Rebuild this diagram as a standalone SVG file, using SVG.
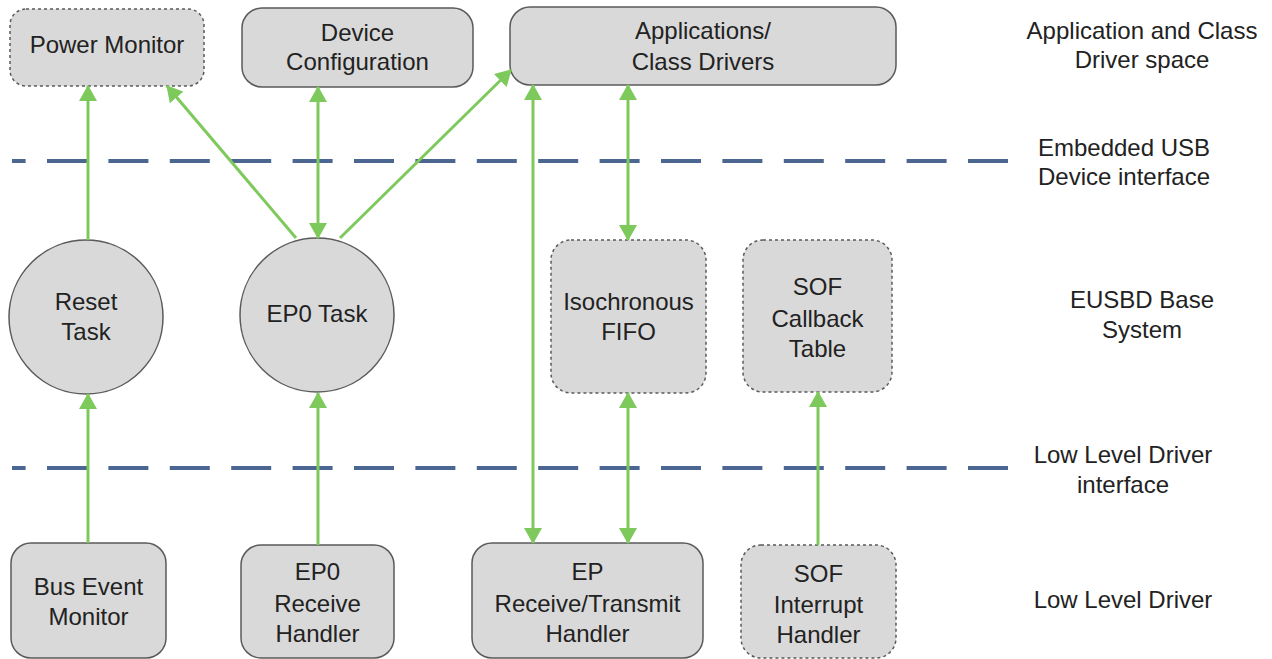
<svg xmlns="http://www.w3.org/2000/svg" width="1272" height="659" viewBox="0 0 1272 659">
<style>
.box{fill:#d9d9d9;stroke:#5a5a5a;stroke-width:1.5}
.dot{fill:#d9d9d9;stroke:#5a5a5a;stroke-width:1.5;stroke-dasharray:3 3}
.t{font-family:"Liberation Sans",Arial,sans-serif;font-size:24px;fill:#222;text-anchor:middle}
.sep{stroke:#4b6690;stroke-width:4;stroke-dasharray:40 21.4;stroke-dashoffset:26.4}
.c{stroke:#7ec95c;stroke-width:3;fill:none}
</style>
<defs>
<marker id="ah" viewBox="0 0 16 18" refX="15" refY="9" markerWidth="16" markerHeight="18" markerUnits="userSpaceOnUse" orient="auto-start-reverse">
<path d="M0,0 L16,9 L0,18 z" fill="#7ec95c"/>
</marker>
</defs>
<rect width="1272" height="659" fill="#ffffff"/>
<g id="separators">
<line class="sep" x1="12" y1="161" x2="1010" y2="161"/>
<line class="sep" x1="12" y1="468" x2="1010" y2="468"/>
</g>
<g id="labels">
<text class="t" x="1142" y="39">Application and Class</text>
<text class="t" x="1142" y="68">Driver space</text>
<text class="t" x="1124" y="156">Embedded USB</text>
<text class="t" x="1124" y="185">Device interface</text>
<text class="t" x="1142" y="308">EUSBD Base</text>
<text class="t" x="1142" y="338">System</text>
<text class="t" x="1123" y="463">Low Level Driver</text>
<text class="t" x="1123" y="493">interface</text>
<text class="t" x="1123" y="608">Low Level Driver</text>
</g>
<g id="power-monitor">
<rect class="dot" x="10" y="9" width="194" height="77" rx="16"/>
<text class="t" x="107" y="53">Power Monitor</text>
</g>
<g id="device-configuration">
<rect class="box" x="242" y="8" width="231" height="79" rx="20"/>
<text class="t" x="357.5" y="41">Device</text>
<text class="t" x="357.5" y="70">Configuration</text>
</g>
<g id="applications">
<rect class="box" x="510" y="7" width="386" height="78" rx="20"/>
<text class="t" x="703" y="39">Applications/</text>
<text class="t" x="703" y="70">Class Drivers</text>
</g>
<g id="reset-task">
<circle class="box" cx="86" cy="317" r="77"/>
<text class="t" x="86" y="310">Reset</text>
<text class="t" x="86" y="340">Task</text>
</g>
<g id="ep0-task">
<circle class="box" cx="317" cy="315" r="77"/>
<text class="t" x="317" y="322">EP0 Task</text>
</g>
<g id="isochronous-fifo">
<rect class="dot" x="551" y="240" width="155" height="153" rx="20"/>
<text class="t" x="628.5" y="310">Isochronous</text>
<text class="t" x="628.5" y="340">FIFO</text>
</g>
<g id="sof-callback-table">
<rect class="dot" x="743" y="240" width="149" height="152" rx="20"/>
<text class="t" x="817.5" y="295">SOF</text>
<text class="t" x="817.5" y="327">Callback</text>
<text class="t" x="817.5" y="357">Table</text>
</g>
<g id="bus-event-monitor">
<rect class="box" x="11" y="543" width="155" height="115" rx="20"/>
<text class="t" x="88.5" y="595">Bus Event</text>
<text class="t" x="88.5" y="625">Monitor</text>
</g>
<g id="ep0-receive-handler">
<rect class="box" x="241" y="545" width="153" height="113" rx="20"/>
<text class="t" x="317.5" y="580">EP0</text>
<text class="t" x="317.5" y="612">Receive</text>
<text class="t" x="317.5" y="642">Handler</text>
</g>
<g id="ep-receive-transmit-handler">
<rect class="box" x="472" y="543" width="231" height="115" rx="20"/>
<text class="t" x="587.5" y="580">EP</text>
<text class="t" x="587.5" y="612">Receive/Transmit</text>
<text class="t" x="587.5" y="642">Handler</text>
</g>
<g id="sof-interrupt-handler">
<rect class="dot" x="741" y="545" width="155" height="113" rx="20"/>
<text class="t" x="818.5" y="582">SOF</text>
<text class="t" x="818.5" y="613">Interrupt</text>
<text class="t" x="818.5" y="643">Handler</text>
</g>
<g id="connectors">
<line class="c" x1="88" y1="240" x2="88" y2="86" marker-end="url(#ah)"/>
<line class="c" x1="296" y1="238" x2="167" y2="86" marker-end="url(#ah)"/>
<line class="c" x1="318" y1="238" x2="318" y2="87" marker-start="url(#ah)" marker-end="url(#ah)"/>
<line class="c" x1="340" y1="238" x2="511" y2="70" marker-end="url(#ah)"/>
<line class="c" x1="533" y1="543" x2="533" y2="85" marker-start="url(#ah)" marker-end="url(#ah)"/>
<line class="c" x1="628" y1="240" x2="628" y2="85" marker-start="url(#ah)" marker-end="url(#ah)"/>
<line class="c" x1="628" y1="543" x2="628" y2="393" marker-start="url(#ah)" marker-end="url(#ah)"/>
<line class="c" x1="88" y1="543" x2="88" y2="394" marker-end="url(#ah)"/>
<line class="c" x1="318" y1="545" x2="318" y2="393" marker-end="url(#ah)"/>
<line class="c" x1="818" y1="545" x2="818" y2="392" marker-end="url(#ah)"/>
</g>
</svg>
